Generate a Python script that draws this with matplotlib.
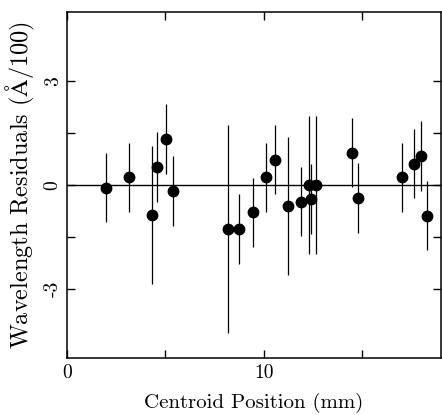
import matplotlib
matplotlib.use("Agg")
import matplotlib.pyplot as plt
from matplotlib.ticker import FixedLocator

plt.rcParams['font.family'] = 'serif'
plt.rcParams['font.serif'] = ['cmr10', 'DejaVu Serif']
plt.rcParams['mathtext.fontset'] = 'cm'
plt.rcParams['axes.formatter.use_mathtext'] = True
plt.rcParams['axes.unicode_minus'] = False

# centroid position (mm), residual (A/100), error
position = [1.95, 3.17, 4.32, 4.56, 5.03, 5.39, 8.18, 8.76, 9.45, 10.11,
            10.55, 11.21, 11.90, 12.30, 12.42, 12.65, 14.49, 14.78, 17.05,
            17.66, 18.01, 18.32]
residual = [-0.07, 0.23, -0.87, 0.52, 1.33, -0.17, -1.27, -1.27, -0.79, 0.23,
            0.73, -0.60, -0.48, 0.0, -0.40, 0.0, 0.94, -0.37, 0.22,
            0.62, 0.84, -0.88]
error = [1.0, 1.0, 2.0, 1.0, 1.0, 1.0, 3.0, 1.0, 1.0, 1.0,
         1.0, 2.0, 1.0, 2.0, 1.0, 2.0, 1.0, 1.0, 1.0,
         1.0, 1.0, 1.0]

fig = plt.figure(figsize=(4.42, 4.15), dpi=100)
ax = fig.add_axes([0.152, 0.137, 0.845, 0.834])

ax.axhline(0, color='black', lw=1.0, zorder=1)
ax.errorbar(position, residual, yerr=error, fmt='o', color='black',
            ms=7.5, elinewidth=0.9, capsize=0, zorder=3)

ax.set_xlim(0, 19)
ax.set_ylim(-5, 5)

ax.xaxis.set_major_locator(FixedLocator([0, 10]))
ax.xaxis.set_minor_locator(FixedLocator([5, 15]))
ax.yaxis.set_major_locator(FixedLocator([-3, 0, 3]))
ax.yaxis.set_minor_locator(FixedLocator([-1.5, 1.5]))
ax.set_xticklabels(['0', '10'])
ax.set_yticklabels(['-3', '0', '3'], rotation=90, va='center')

ax.tick_params(which='both', direction='in', top=True, right=True,
               length=6, width=1, labelsize=14)
ax.tick_params(axis='x', pad=4)
ax.tick_params(axis='y', pad=4)

for s in ax.spines.values():
    s.set_linewidth(1.1)

ax.set_xlabel('Centroid Position (mm)', fontsize=15, labelpad=8)
ax.set_ylabel(r'Wavelength Residuals ($\mathrm{\AA}$/100)', fontsize=17.5,
              labelpad=5)

fig.savefig('out.png', dpi=100)
